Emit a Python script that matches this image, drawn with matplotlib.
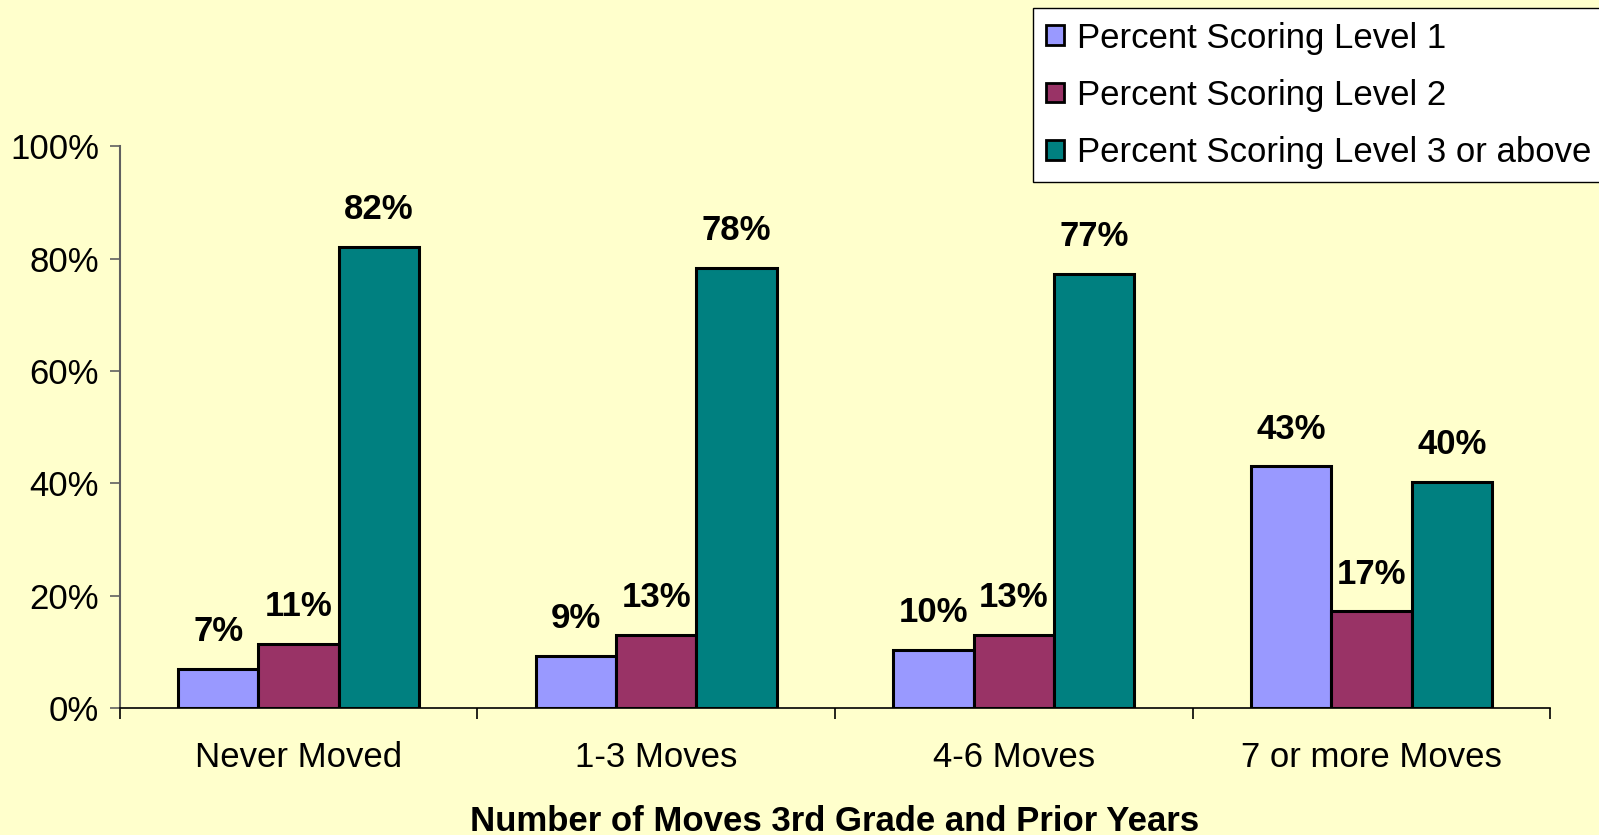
import numpy as np
import matplotlib.pyplot as plt

plt.rcParams['font.family'] = ['Liberation Sans', 'DejaVu Sans']

categories = ['Never Moved', '1-3 Moves', '4-6 Moves', '7 or more Moves']
series_names = ['Percent Scoring Level 1', 'Percent Scoring Level 2',
                'Percent Scoring Level 3 or above']
level1 = [7.0, 9.3, 10.3, 43.0]
level2 = [11.4, 13.0, 13.0, 17.2]
level3 = [82.0, 78.3, 77.3, 40.3]
y_ticks = [0, 20, 40, 60, 80, 100]

colors = ['#9999FF', '#993366', '#008080']
bg = '#FFFFCC'

fig = plt.figure(figsize=(15.99, 8.35), dpi=100, facecolor=bg)
ax = fig.add_axes([0.075, 0.152, 0.8944, 0.673])
ax.set_facecolor(bg)

x = np.arange(len(categories))
w = 0.225
for i, (vals, name) in enumerate(zip([level1, level2, level3], series_names)):
    pos = x + (i - 1) * w
    bars = ax.bar(pos, vals, width=w, color=colors[i], edgecolor='black',
                  linewidth=2.2, label=name, zorder=3)
    for b, v in zip(bars, vals):
        ax.annotate(f'{v:.0f}%', (b.get_x() + b.get_width() / 2, v),
                    xytext=(0, 15), textcoords='offset points',
                    ha='center', va='bottom', fontsize=25, fontweight='bold')

ax.set_xlim(-0.5, len(categories) - 0.5)
ax.set_ylim(0, 100)
ax.set_yticks(y_ticks)
ax.set_yticklabels([f'{t}%' for t in y_ticks], fontsize=25)
ax.tick_params(axis='y', direction='out', length=7, width=1.2, pad=8, color='#606060')

# ticks between categories, labels in the middle
ax.set_xticks(np.arange(len(categories) + 1) - 0.5)
ax.set_xticklabels([])
ax.set_xticks(x, minor=True)
ax.set_xticklabels(categories, minor=True, fontsize=25)
ax.tick_params(axis='x', which='major', direction='out', length=8, width=1.2)
ax.tick_params(axis='x', which='minor', length=0, pad=24)

for s in ['top', 'right']:
    ax.spines[s].set_visible(False)
ax.spines['left'].set_color('#606060')
ax.spines['left'].set_linewidth(1.5)
ax.spines['bottom'].set_linewidth(1.2)

ax.set_xlabel('Number of Moves 3rd Grade and Prior Years', fontsize=25,
              fontweight='bold', labelpad=22)

leg = fig.legend(loc='upper left', bbox_to_anchor=(0.646, 0.99), fontsize=25,
                 frameon=True, fancybox=False, framealpha=1, edgecolor='black',
                 handlelength=0.5, handleheight=0.5, handletextpad=0.4,
                 labelspacing=0.7, borderpad=0.38, borderaxespad=0)
leg.get_frame().set_linewidth(1.0)
for h in leg.legend_handles:
    h.set_linewidth(2.0)

fig.savefig('out.png', dpi=100, facecolor=bg)
